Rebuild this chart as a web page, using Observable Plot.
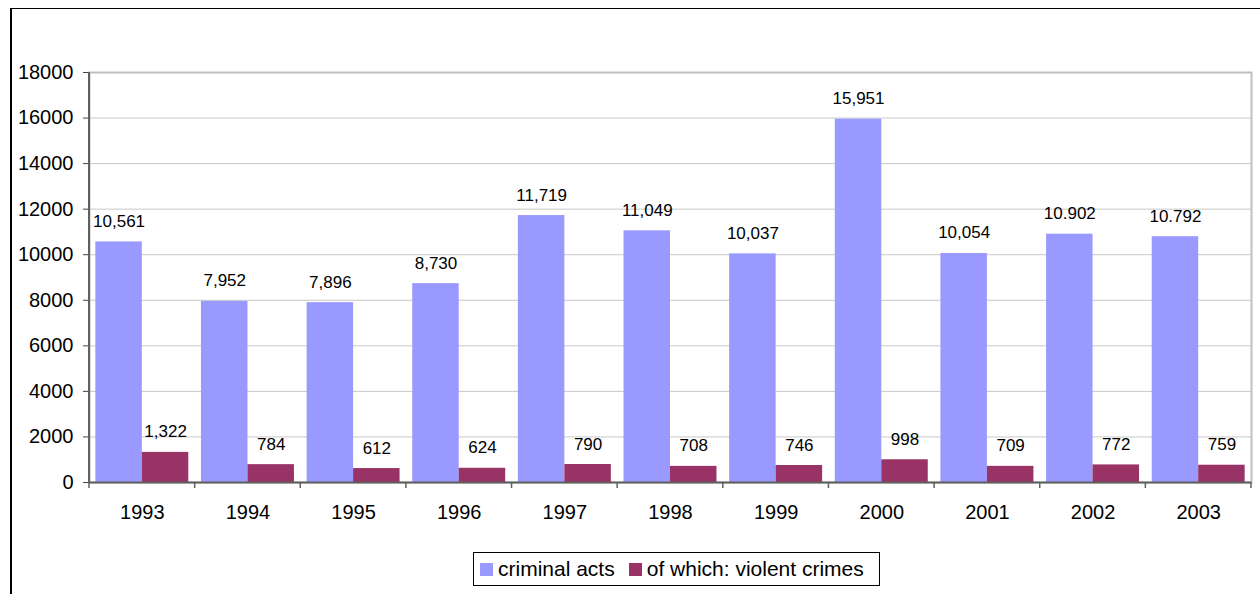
<!DOCTYPE html>
<html>
<head>
<meta charset="utf-8">
<script src="https://cdn.jsdelivr.net/npm/d3@7"></script>
<script src="https://cdn.jsdelivr.net/npm/@observablehq/plot@0.6"></script>
<style>
  html, body { margin: 0; padding: 0; background: #fff; }
  body { width: 1260px; height: 594px; position: relative; overflow: hidden; font-family: "Liberation Sans", Arial, sans-serif; }
  #frame { position: absolute; left: 10px; top: 8px; width: 1260px; height: 600px; border-top: 1px solid #000; border-left: 2px solid #000; }
  #chart { position: absolute; left: 0; top: 0; }
  #legend { position: absolute; left: 473px; top: 552px; width: 405px; height: 32px; border: 1px solid #000; background: #fff;
            display: flex; align-items: center; font-size: 21px; color: #000; box-sizing: content-box; }
  .item { display: flex; align-items: center; }
  .sw { width: 13px; height: 13px; display: inline-block; }
</style>
</head>
<body>
<div id="frame"></div>
<div id="chart"></div>
<div id="legend"></div>
<script>
const years = ["1993","1994","1995","1996","1997","1998","1999","2000","2001","2002","2003"];
const criminalActs = [10561, 7952, 7896, 8730, 11719, 11049, 10037, 15951, 10054, 10902, 10792];
const violentCrimes = [1322, 784, 612, 624, 790, 708, 746, 998, 709, 772, 759];
const criminalLabels = ["10,561","7,952","7,896","8,730","11,719","11,049","10,037","15,951","10,054","10.902","10.792"];
const violentLabels = ["1,322","784","612","624","790","708","746","998","709","772","759"];
const yTicks = [0, 2000, 4000, 6000, 8000, 10000, 12000, 14000, 16000, 18000];
const seriesNames = ["criminal acts", "of which: violent crimes"];
const seriesColors = ["#9999FF", "#993366"];

const W = 1260, H = 545;
const mL = 89, mR = 9, mT = 72, mB = H - 482;
const padInner = 0.12;
const step = (W - mL - mR) / years.length;
const half = step * (1 - padInner) / 2;

const rows = years.map((y, i) => ({
  year: y, crim: criminalActs[i], viol: violentCrimes[i],
  cl: criminalLabels[i], vl: violentLabels[i]
}));

const chart = Plot.plot({
  width: W, height: H,
  marginLeft: mL, marginRight: mR, marginTop: mT, marginBottom: mB,
  style: { fontFamily: "'Liberation Sans', Arial, sans-serif", fontSize: "20px", color: "#000", background: "transparent", overflow: "visible" },
  x: { domain: years, paddingInner: padInner, paddingOuter: padInner / 2, round: false, label: null },
  y: { domain: [0, 18000], label: null },
  marks: [
    Plot.gridY(yTicks, { stroke: "#c8c8c8", strokeOpacity: 1, strokeWidth: 1 }),
    Plot.frame({ stroke: "#c0c0c0", strokeWidth: 2 }),
    Plot.barY(rows, { x: "year", y: "crim", fill: seriesColors[0], insetRight: half }),
    Plot.barY(rows, { x: "year", y: "viol", fill: seriesColors[1], insetLeft: half }),
    Plot.text(rows, { x: "year", y: "crim", text: "cl", dx: -half / 2, dy: -15, lineAnchor: "bottom", fontSize: 17, fill: "#000" }),
    Plot.text(rows, { x: "year", y: "viol", text: "vl", dx: half / 2, dy: -15, lineAnchor: "bottom", fontSize: 17, fill: "#000" }),
    Plot.axisY(yTicks, { tickFormat: d => String(d), tickSize: 6, tickPadding: 10, fontSize: 20, stroke: "#444" }),
    Plot.axisX({ tickSize: 0, tickPadding: 22, fontSize: 20 }),
    Plot.ruleY([0], { stroke: "#606060", strokeWidth: 2 })
  ]
});

// left axis line and category boundary tick marks, placed with Plot's own scales
const xs = chart.scale("x");
const ys = chart.scale("y");
const y0 = ys.apply(0), yTop = ys.apply(18000);
const gap = padInner * xs.step / 2;
const bounds = years.map(y => xs.apply(y) - gap);
bounds.push(xs.apply(years[years.length - 1]) + xs.bandwidth + gap);
const g = d3.select(chart).append("g").attr("stroke", "#606060");
g.append("line").attr("x1", bounds[0]).attr("x2", bounds[0]).attr("y1", yTop).attr("y2", y0 + 1).attr("stroke-width", 2);
g.selectAll("line.tk").data(bounds).join("line").attr("class", "tk")
  .attr("x1", d => d).attr("x2", d => d).attr("y1", y0).attr("y2", y0 + 6).attr("stroke-width", 1.5);

document.getElementById("chart").appendChild(chart);

const legend = document.getElementById("legend");
seriesNames.forEach((name, i) => {
  const it = document.createElement("span");
  it.className = "item";
  it.style.marginLeft = i === 0 ? "6px" : "14px";
  const sw = document.createElement("span");
  sw.className = "sw";
  sw.style.background = seriesColors[i];
  const tx = document.createElement("span");
  tx.textContent = name;
  tx.style.marginLeft = "5px";
  it.appendChild(sw); it.appendChild(tx);
  legend.appendChild(it);
});
</script>
</body>
</html>
